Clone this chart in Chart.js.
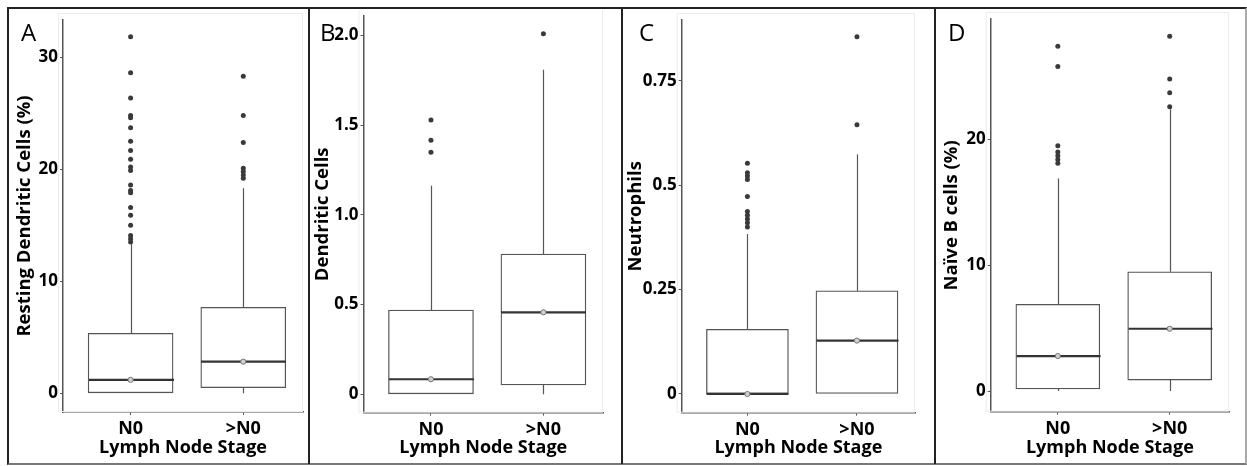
<!DOCTYPE html>
<html>
<head>
<meta charset="utf-8">
<script src="https://cdn.jsdelivr.net/npm/chart.js@4.4.0/dist/chart.umd.min.js"></script>
<style>
    body { margin: 0; background: #fff; width: 1247px; height: 466px; position: relative; overflow: hidden; font-family: 'Open Sans', sans-serif; }
    #frame { position: absolute; left: 7px; top: 7px; width: 1240px; height: 458px; box-sizing: border-box; border: 2px solid #222; border-bottom-color: #777; border-right-color: #aaa; }
    .sep { position: absolute; top: 8px; height: 456px; width: 2px; background: #222; }
    canvas { position: absolute; top: 10px; }
    .tag { position: absolute; top: 20px; font-size: 24px; line-height: 1; color: #000; }
</style>
</head>
<body>
<div id="frame"></div>
<div class="sep" style="left:308px"></div>
<div class="sep" style="left:621px"></div>
<div class="sep" style="left:934px"></div>

<canvas id="grafica-a" width="298" height="452" style="left:10px"></canvas>
<canvas id="grafica-b" width="308" height="452" style="left:312px"></canvas>
<canvas id="grafica-c" width="308" height="452" style="left:625px"></canvas>
<canvas id="grafica-d" width="306" height="452" style="left:938px"></canvas>

<div class="tag" style="left:21px">A</div>
<div class="tag" style="left:320px">B</div>
<div class="tag" style="left:639px">C</div>
<div class="tag" style="left:948px">D</div>

<script>
// grupos
var groups = ['N0', '>N0'];

// [min, q1, mediana, q3, max] por grupo
var restingStats = [[0, 0, 1.2, 5.36, 13.3], [0, 0.5, 2.82, 7.68, 18.3]];
var restingOutN0 = [31.84, 28.63, 26.37, 24.8, 24.6, 23.7, 22.5, 21.67, 20.9, 20.2, 19.9, 18.6, 18.1, 17.9, 16.6, 15.9, 15.0, 14.1, 13.8, 13.5];
var restingOutN1 = [28.3, 24.8, 22.4, 20.1, 19.8, 19.5, 19.2];
var restingTicks = [0, 10, 20, 30];
var restingTickLabels = ['0', '10', '20', '30'];

var dendriticStats = [[0, 0, 0.084, 0.47, 1.163], [0, 0.052, 0.457, 0.782, 1.81]];
var dendriticOutN0 = [1.529, 1.417, 1.349];
var dendriticOutN1 = [2.01];
var dendriticTicks = [0, 0.5, 1, 1.5, 2];
var dendriticTickLabels = ['0', '0.5', '1.0', '1.5', '2.0'];

var neutroStats = [[0, 0, 0, 0.155, 0.383], [0, 0, 0.128, 0.247, 0.574]];
var neutroOutN0 = [0.553, 0.53, 0.522, 0.514, 0.473, 0.437, 0.428, 0.419, 0.41, 0.40];
var neutroOutN1 = [0.856, 0.645];
var neutroTicks = [0, 0.25, 0.5, 0.75];
var neutroTickLabels = ['0', '0.25', '0.5', '0.75'];

var naiveStats = [[0, 0.16, 2.78, 6.89, 16.9], [0, 0.87, 4.95, 9.48, 22.4]];
var naiveOutN0 = [27.4, 25.8, 19.5, 19.0, 18.7, 18.4, 18.1];
var naiveOutN1 = [28.2, 24.8, 23.7, 22.6];
var naiveTicks = [0, 10, 20];
var naiveTickLabels = ['0', '10', '20'];

var fontFam = "'Open Sans', sans-serif";

function boxPlot(id, stats, outN0, outN1, ticks, tickLabels, yTitle, lay) {
    var canvas = document.getElementById(id);
    var H = canvas.height, W = canvas.width;

    var outliers = outN0.map(function (v) { return {x: 1, y: v}; })
        .concat(outN1.map(function (v) { return {x: 2, y: v}; }));

    var partes = {
        id: 'partes',
        beforeDatasetsDraw: function (chart) {
            var a = chart.chartArea, ctx = chart.ctx;
            ctx.save();
            ctx.strokeStyle = '#ececec';
            ctx.lineWidth = 1;
            ctx.strokeRect(a.left - 4.5, a.top - 6.5, a.right - a.left + 4, a.bottom - a.top + 6);
            ctx.restore();
        },
        afterDatasetDraw: function (chart, args) {
            if (args.meta.type !== 'bar') return;
            var x = chart.scales.x, y = chart.scales.y, ctx = chart.ctx;
            ctx.save();
            stats.forEach(function (s, i) {
                var cx = Math.round(x.getPixelForValue(i + 1)) + 0.5;
                ctx.strokeStyle = '#555';
                ctx.lineWidth = 1.2;
                ctx.beginPath();
                ctx.moveTo(cx, y.getPixelForValue(s[3]));
                ctx.lineTo(cx, y.getPixelForValue(s[4]));
                ctx.moveTo(cx, y.getPixelForValue(s[1]));
                ctx.lineTo(cx, y.getPixelForValue(s[0]));
                ctx.stroke();
                var my = y.getPixelForValue(s[2]);
                ctx.strokeStyle = '#333';
                ctx.lineWidth = 2.2;
                ctx.beginPath();
                ctx.moveTo(cx - lay.box / 2, my);
                ctx.lineTo(cx + lay.box / 2, my);
                ctx.stroke();
            });
            ctx.restore();
        }
    };

    new Chart(canvas.getContext('2d'), {
        type: 'bar',
        data: {
            datasets: [
                {
                    type: 'scatter',
                    order: 0,
                    data: stats.map(function (s, i) { return {x: i + 1, y: s[2]}; }),
                    pointRadius: 2.6,
                    pointBackgroundColor: '#d0d0d0',
                    pointBorderColor: '#777',
                    pointBorderWidth: 1
                },
                {
                    type: 'scatter',
                    order: 1,
                    data: outliers,
                    pointRadius: 2.5,
                    pointBackgroundColor: '#3a3a3a',
                    pointBorderWidth: 0
                },
                {
                    type: 'bar',
                    order: 2,
                    data: stats.map(function (s, i) { return {x: i + 1, y: [s[1], s[3]]}; }),
                    backgroundColor: '#fff',
                    borderColor: '#555',
                    borderWidth: 1.3,
                    borderSkipped: false,
                    barThickness: lay.box
                }
            ]
        },
        options: {
            responsive: false,
            animation: false,
            events: [],
            layout: {padding: {left: 0, top: lay.top, right: W - lay.right, bottom: 0}},
            plugins: {legend: {display: false}, tooltip: {enabled: false}},
            scales: {
                x: {
                    type: 'linear',
                    offset: false,
                    min: 0.4,
                    max: 2.53,
                    afterBuildTicks: function (scale) { scale.ticks = [{value: 1}, {value: 2}]; },
                    afterFit: function (scale) {
                        scale.height = H - lay.bottom;
                        scale.paddingLeft = 0;
                        scale.paddingRight = 0;
                    },
                    ticks: {
                        callback: function (v) { return groups[Math.round(v) - 1]; },
                        color: '#000',
                        padding: 3,
                        maxRotation: 0,
                        font: {family: fontFam, weight: 'bold', size: 18}
                    },
                    grid: {offset: false, drawOnChartArea: false, drawTicks: true, tickLength: 3, color: '#555'},
                    border: {color: '#555', width: 1.5},
                    title: {
                        display: true,
                        text: 'Lymph Node Stage',
                        color: '#000',
                        padding: {top: 0, bottom: 3},
                        font: {family: fontFam, weight: 'bold', size: 18}
                    }
                },
                y: {
                    type: 'linear',
                    min: lay.min,
                    max: lay.max,
                    afterBuildTicks: function (scale) {
                        scale.ticks = ticks.map(function (v) { return {value: v}; });
                    },
                    afterFit: function (scale) {
                        scale.width = lay.left;
                        scale.paddingTop = 0;
                        scale.paddingBottom = 0;
                    },
                    ticks: {
                        callback: function (v) { return tickLabels[ticks.indexOf(v)]; },
                        color: '#000',
                        padding: 2,
                        font: {family: fontFam, weight: 'bold', size: 17}
                    },
                    grid: {drawOnChartArea: false, drawTicks: true, tickLength: 3, color: '#555'},
                    border: {color: '#555', width: 1.5},
                    title: {
                        display: true,
                        text: yTitle,
                        color: '#000',
                        padding: {top: lay.titlePad, bottom: 0},
                        font: {family: fontFam, weight: 'bold', size: 18.5}
                    }
                }
            }
        },
        plugins: [partes]
    });
}

boxPlot('grafica-a', restingStats, restingOutN0, restingOutN1, restingTicks, restingTickLabels,
    'Resting Dendritic Cells (%)',
    {left: 53, top: 10, right: 293, bottom: 402, min: -1.67, max: 33.33, box: 85, titlePad: 4});

boxPlot('grafica-b', dendriticStats, dendriticOutN0, dendriticOutN1, dendriticTicks, dendriticTickLabels,
    'Dendritic Cells',
    {left: 51.5, top: 6, right: 291, bottom: 402.7, min: -0.1026, max: 2.109, box: 85, titlePad: 0});

boxPlot('grafica-c', neutroStats, neutroOutN0, neutroOutN1, neutroTicks, neutroTickLabels,
    'Neutrophils',
    {left: 56.7, top: 10, right: 290, bottom: 402.7, min: -0.0448, max: 0.896, box: 82, titlePad: 0});

boxPlot('grafica-d', naiveStats, naiveOutN0, naiveOutN1, naiveTicks, naiveTickLabels,
    'Naïve B cells (%)',
    {left: 52.7, top: 9, right: 291, bottom: 401.7, min: -1.645, max: 29.57, box: 84, titlePad: 3});
</script>
</body>
</html>
